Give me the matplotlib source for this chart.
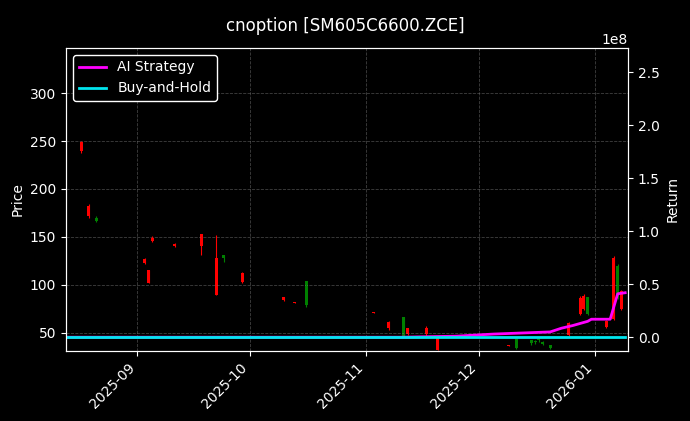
import numpy as np
import pandas as pd
import matplotlib
matplotlib.use("Agg")
import matplotlib.pyplot as plt
import matplotlib.dates as mdates

plt.style.use("dark_background")

# daily candles (open, high, low, close)
candle_dates = ["2025-08-17", "2025-08-19", "2025-08-21", "2025-09-03", "2025-09-04",
                "2025-09-05", "2025-09-11", "2025-09-18", "2025-09-22", "2025-09-24",
                "2025-09-29", "2025-10-10", "2025-10-13", "2025-10-16", "2025-11-03",
                "2025-11-07", "2025-11-11", "2025-11-12", "2025-11-17", "2025-11-20",
                "2025-12-09", "2025-12-11", "2025-12-15", "2025-12-16", "2025-12-17",
                "2025-12-18", "2025-12-20", "2025-12-25", "2025-12-28", "2025-12-29",
                "2025-12-30", "2026-01-04", "2026-01-06", "2026-01-07", "2026-01-08"]
opens  = [249, 182, 167, 127, 115, 149, 143, 153, 128, 128, 112, 87, 82, 79, 72,
          61, 47, 55, 55, 47, 37, 34, 39, 40, 42, 38, 34, 60, 86, 88, 70, 62, 128, 86, 94]
highs  = [250, 184, 172, 128, 115, 151, 144, 153, 152, 131, 113, 87, 82, 104, 72,
          62, 66, 55, 57, 47, 37, 43, 42, 42, 44, 41, 37, 61, 88, 90, 87, 63, 130, 122, 95]
lows   = [237, 170, 166, 122, 102, 145, 139, 131, 89, 124, 102, 83, 81, 77, 71,
          53, 46, 48, 47, 32, 36, 33, 37, 38, 40, 37, 33, 47, 69, 74, 69, 55, 63, 85, 74]
closes = [240, 172, 170, 123, 102, 146, 140, 140, 89, 131, 103, 84, 81, 104, 71,
          55, 66, 49, 49, 32, 36, 43, 42, 41, 44, 40, 37, 48, 70, 75, 87, 56, 64, 120, 75]

# strategy returns
ret_dates = ["2025-08-13", "2025-11-10", "2025-11-25", "2025-12-05", "2025-12-20",
             "2025-12-23", "2025-12-26", "2025-12-30", "2025-12-31", "2026-01-05",
             "2026-01-07", "2026-01-09"]
ai_returns = [0.0, 0.0, 0.01e8, 0.03e8, 0.05e8, 0.085e8, 0.11e8, 0.15e8, 0.17e8,
              0.17e8, 0.41e8, 0.42e8]
bh_returns = [0.0] * len(ret_dates)

cd = pd.to_datetime(candle_dates)
rd = pd.to_datetime(ret_dates)

fig = plt.figure(figsize=(6.9, 4.21), dpi=100, facecolor="black")
ax = fig.add_axes([66/690, 70/421, 562/690, 303/421])
ax.set_facecolor("black")

for d, o, h, l, c in zip(cd, opens, highs, lows, closes):
    col = "red" if c < o else "green"
    ax.vlines(d, l, h, color=col, linewidth=0.8)
    ax.bar(d, abs(c - o) or 0.8, bottom=min(o, c), width=0.8, color=col)

ax.set_ylim(31, 347)
ax.set_yticks([50, 100, 150, 200, 250, 300])
ax.set_ylabel("Price")
ax.grid(True, linestyle="--", color="gray", alpha=0.5, linewidth=0.6)
ax.set_xlim(pd.Timestamp("2025-08-13"), pd.Timestamp("2026-01-09 18:00"))
ax.xaxis.set_major_locator(mdates.MonthLocator())
ax.xaxis.set_major_formatter(mdates.DateFormatter("%Y-%m"))
plt.setp(ax.get_xticklabels(), rotation=45, ha="right")

ax2 = ax.twinx()
ax2.plot(rd, ai_returns, color="#ff00ff", linewidth=2, label="AI Strategy")
ax2.plot(rd, bh_returns, color="#00e5ee", linewidth=2, label="Buy-and-Hold")
ax2.set_ylim(-0.13e8, 2.73e8)
ax2.set_ylabel("Return")
ax2.legend(loc="upper left", facecolor="black", edgecolor="white", framealpha=1)

fig.suptitle("cnoption [SM605C6600.ZCE]", y=0.96, fontsize=12)
fig.savefig("out.png", facecolor="black")
